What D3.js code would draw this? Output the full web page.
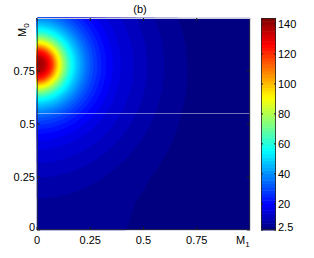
<!DOCTYPE html>
<html>
<head>
<meta charset="utf-8">
<script src="https://cdn.jsdelivr.net/npm/d3@7"></script>
<style>
  body { margin: 0; background: #fff; overflow: hidden; }
  text { font-family: "Liberation Sans", Arial, sans-serif; font-size: 11px; fill: #000; }
</style>
</head>
<body>
<div id="chart"></div>
<script>
// values
var floorValue = 2.5;           // colour axis minimum
var maxValue = 144;             // colour axis maximum
var peak = [0, 0.78];           // M1, M0 of the maximum
var mirror = [0, -0.78];        // image of the peak below M0 = 0
// radial profile: distance from the peak -> value above the floor
var profileR =      [0, 0.038, 0.07, 0.094, 0.127, 0.155, 0.188, 0.225, 0.258, 0.296, 0.338, 0.39, 0.47, 0.554, 0.69, 0.75, 0.796, 0.883, 1.015, 1.158, 1.51, 2.1];
var profileExcess = [141.5, 134, 118, 97, 74, 58, 46, 36, 29, 23, 18, 14, 10.2, 6.6, 2.7, 2.2, 1.85, 1.42, 1.0, 0.65, 0.33, 0.12];
var whiteLineM0 = 0.55;

var xTicks = [0, 0.25, 0.5, 0.75];
var xTickLabels = ["0", "0.25", "0.5", "0.75"];
var yTicks = [0, 0.25, 0.5, 0.75];
var yTickLabels = ["0", "0.25", "0.5", "0.75"];
var barTicks = [2.5, 20, 40, 60, 80, 100, 120, 140];
var nLevels = 50;

(function () {
var width = 314, height = 258;
var left = 37, mTop = 18, plotW = 213, plotH = 212;

var svg = d3.select("#chart").append("svg")
    .attr("width", width)
    .attr("height", height);

var x = d3.scaleLinear().domain([0, 1]).range([left, left + plotW]);
var y = d3.scaleLinear().domain([0, 1]).range([mTop + plotH, mTop]);

// matlab jet
function jet(t) {
    t = Math.max(0, Math.min(1, t));
    function c(v) { return Math.round(255 * Math.max(0, Math.min(1, v))); }
    var r = 1.5 - Math.abs(4 * t - 3);
    var g = 1.5 - Math.abs(4 * t - 2);
    var b = 1.5 - Math.abs(4 * t - 1);
    return "rgb(" + c(r) + "," + c(g) + "," + c(b) + ")";
}
var color = function (v) { return jet((v - floorValue) / (maxValue - floorValue)); };

var h = d3.scaleLinear().domain(profileR).range(profileExcess).clamp(true);

// grid, one cell per pixel
var nx = plotW, ny = plotH;
var values = new Array(nx * ny);
for (var j = 0; j < ny; j++) {
    var m0 = 1 - (j + 0.5) / ny;
    for (var i = 0; i < nx; i++) {
        var m1 = (i + 0.5) / nx;
        var r1 = Math.hypot(m1 - peak[0], m0 - peak[1]);
        var r2 = Math.hypot(m1 - mirror[0], m0 - mirror[1]);
        values[j * nx + i] = floorValue + h(r1) + h(r2);
    }
}

var levels = d3.range(nLevels).map(function (k) {
    return floorValue + k * (maxValue - floorValue) / nLevels;
});

var contours = d3.contours().size([nx, ny]).thresholds(levels)(values);

svg.append("g")
    .attr("transform", "translate(" + left + "," + mTop + ")")
    .selectAll("path")
    .data(contours)
    .enter().append("path")
    .attr("d", d3.geoPath())
    .attr("fill", function (d) { return color(d.value); })
    .attr("stroke", function (d) { return color(d.value); })
    .attr("stroke-width", 0.3);

// faint horizontal line
var ly = Math.round(y(whiteLineM0)) + 0.5;
svg.append("line")
    .attr("x1", x(0)).attr("x2", x(1))
    .attr("y1", ly).attr("y2", ly)
    .attr("stroke", "#fff").attr("stroke-opacity", 0.45).attr("stroke-width", 1);

// box and inward ticks
svg.append("rect")
    .attr("x", left + 0.5).attr("y", mTop + 0.5)
    .attr("width", plotW - 1).attr("height", plotH - 1)
    .attr("fill", "none").attr("stroke", "#333").attr("stroke-width", 0.7);
svg.append("line")
    .attr("x1", left).attr("x2", left + plotW)
    .attr("y1", mTop + 0.5).attr("y2", mTop + 0.5)
    .attr("stroke", "#c8c8d8").attr("stroke-width", 1);

var tickLen = 3;
xTicks.forEach(function (t) {
    svg.append("line").attr("x1", x(t)).attr("x2", x(t))
        .attr("y1", mTop + plotH).attr("y2", mTop + plotH - tickLen).attr("stroke", "#222");
    svg.append("line").attr("x1", x(t)).attr("x2", x(t))
        .attr("y1", mTop).attr("y2", mTop + tickLen).attr("stroke", "#222");
});
yTicks.forEach(function (t) {
    svg.append("line").attr("y1", y(t)).attr("y2", y(t))
        .attr("x1", left).attr("x2", left + tickLen).attr("stroke", "#222");
    svg.append("line").attr("y1", y(t)).attr("y2", y(t))
        .attr("x1", left + plotW).attr("x2", left + plotW - tickLen).attr("stroke", "#222");
});

// tick labels
svg.selectAll(".xlab").data(xTicks).enter().append("text")
    .attr("class", "xlab")
    .attr("x", function (d) { return x(d); })
    .attr("y", 244)
    .attr("text-anchor", "middle")
    .text(function (d, i) { return xTickLabels[i]; });
svg.selectAll(".ylab").data(yTicks).enter().append("text")
    .attr("class", "ylab")
    .attr("x", 35)
    .attr("y", function (d) { return d === 0 ? y(d) + 1 : y(d) + 4; })
    .attr("text-anchor", "end")
    .text(function (d, i) { return yTickLabels[i]; });

// axis names
var m1Label = svg.append("text").attr("x", 236).attr("y", 244);
m1Label.append("tspan").text("M");
m1Label.append("tspan").attr("dy", 3).attr("font-size", "8px").text("1");

var m0Label = svg.append("text")
    .attr("transform", "translate(26,37) rotate(-90)");
m0Label.append("tspan").text("M");
m0Label.append("tspan").attr("dy", 3).attr("font-size", "8px").text("0");

svg.append("text")
    .attr("x", 140).attr("y", 13)
    .attr("text-anchor", "middle")
    .text("(b)");

// colour bar
var barX = 261, barW = 15;
var cy = d3.scaleLinear().domain([floorValue, maxValue]).range([mTop + plotH, mTop]);
var nSteps = 64;
var stepH = (maxValue - floorValue) / nSteps;
var steps = d3.range(nSteps).map(function (k) { return floorValue + k * stepH; });
svg.append("g").selectAll("rect")
    .data(steps)
    .enter().append("rect")
    .attr("x", barX)
    .attr("width", barW)
    .attr("y", function (d) { return cy(d + stepH); })
    .attr("height", function (d) { return cy(d) - cy(d + stepH) + 0.5; })
    .attr("fill", function (d) { return color(d + stepH / 2); });

svg.append("rect")
    .attr("x", barX + 0.5).attr("y", mTop + 0.5)
    .attr("width", barW - 1).attr("height", plotH - 1)
    .attr("fill", "none").attr("stroke", "#222").attr("stroke-width", 0.8);

barTicks.forEach(function (t) {
    svg.append("line").attr("y1", cy(t)).attr("y2", cy(t))
        .attr("x1", barX).attr("x2", barX + 2).attr("stroke", "#222");
    svg.append("line").attr("y1", cy(t)).attr("y2", cy(t))
        .attr("x1", barX + barW).attr("x2", barX + barW - 2).attr("stroke", "#222");
    svg.append("text")
        .attr("x", barX + barW + 2)
        .attr("y", t === floorValue ? cy(t) + 1 : cy(t) + 4)
        .text(t);
});
})();
</script>
</body>
</html>
